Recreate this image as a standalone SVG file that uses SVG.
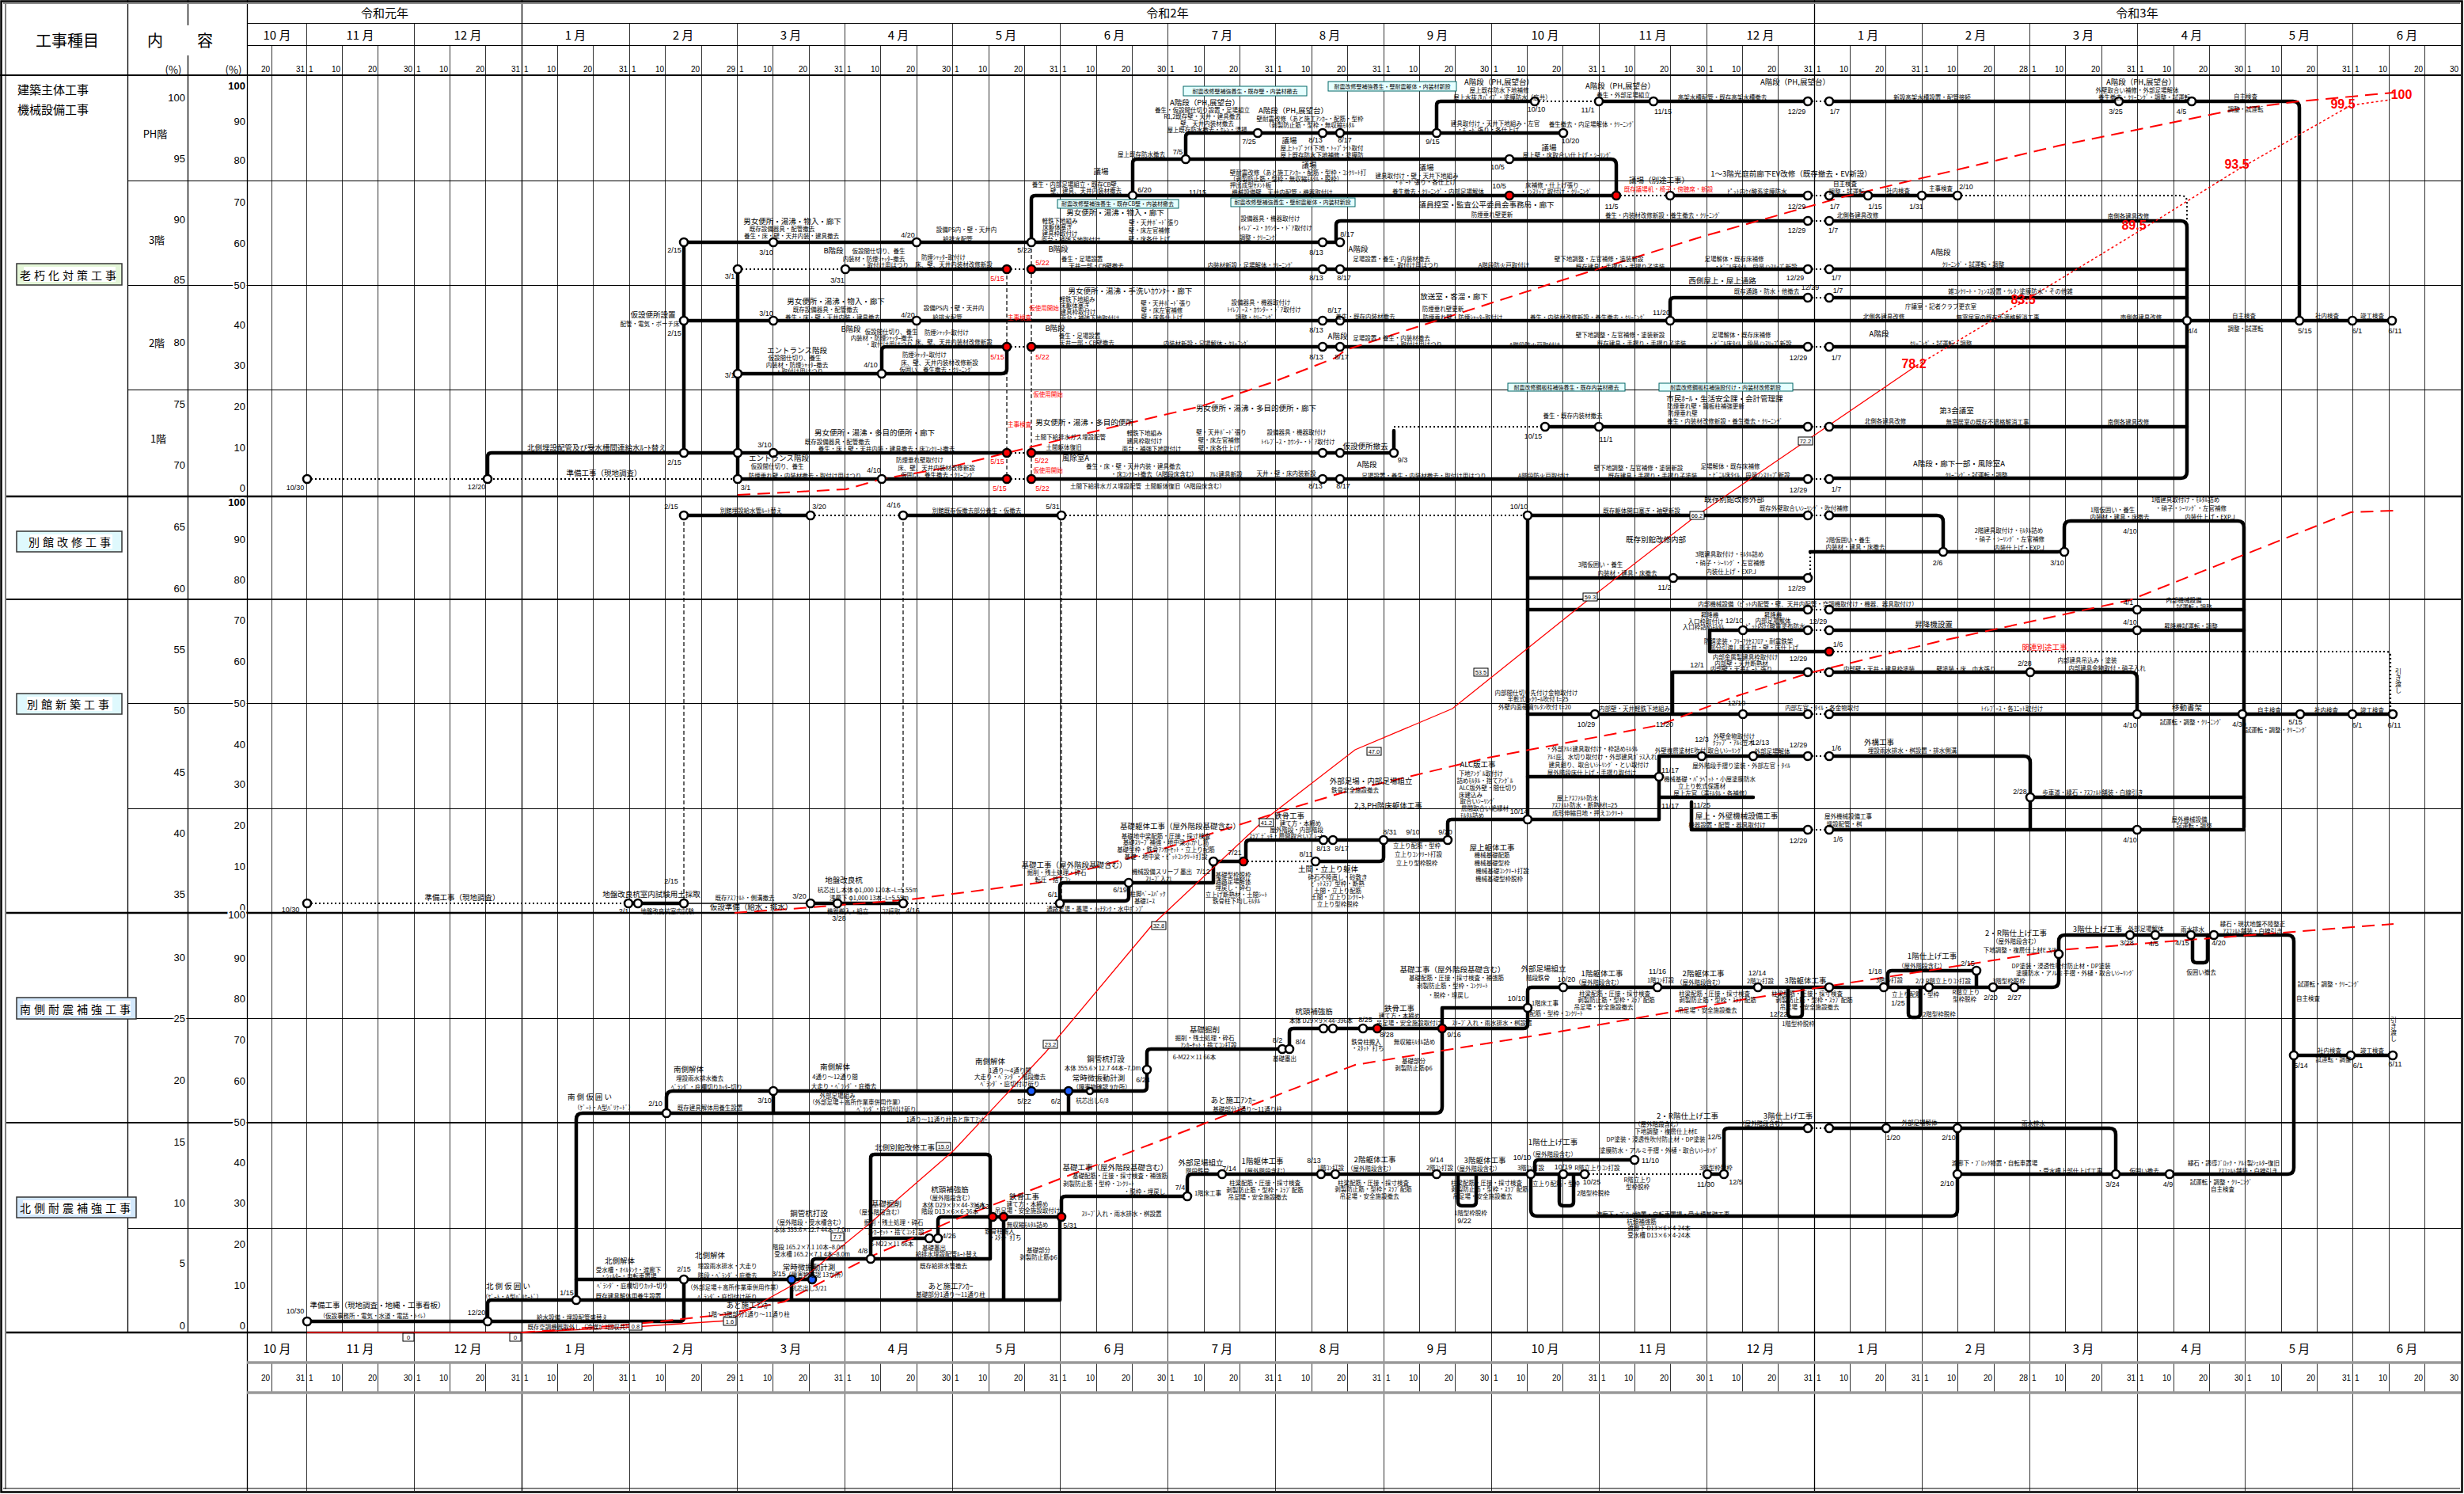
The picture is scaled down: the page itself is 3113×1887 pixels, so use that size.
<svg xmlns="http://www.w3.org/2000/svg" width="3113" height="1887" viewBox="0 0 3113 1887">
<style>
text{font-family:"Noto Sans CJK JP","Liberation Sans",sans-serif;dominant-baseline:central;fill:#000}
.h{font-size:20px;text-anchor:middle}
.yr{font-size:15px;text-anchor:middle}
.mo text{font-size:15px;text-anchor:middle}
.dy text{font-size:10px;font-family:"Liberation Sans",sans-serif}
.dy .e{text-anchor:end}
.ax{font-size:13px;text-anchor:end;font-family:"Liberation Sans",sans-serif;stroke:#fff;stroke-width:4px;paint-order:stroke}
.fl{font-size:13px;text-anchor:middle}
.m{font-size:9.5px;text-anchor:middle}
.s{font-size:7.5px;text-anchor:middle}
.d{font-size:9px;text-anchor:middle;font-family:"Liberation Sans",sans-serif}
.r{fill:#f00}
.p{font-size:16px;font-weight:bold;fill:#f00;text-anchor:middle;font-family:"Liberation Sans",sans-serif}
.vt{writing-mode:vertical-rl;font-size:8px;text-anchor:middle}
.g1{stroke:#333;stroke-width:1;fill:none}
.mn{fill:none;stroke:#000;stroke-width:4.5;stroke-linejoin:round;stroke-linecap:round}
.dt{fill:none;stroke:#000;stroke-width:2.2;stroke-dasharray:2 3}
.dv{fill:none;stroke:#000;stroke-width:1.2;stroke-dasharray:5 3}
.th{fill:none;stroke:#000;stroke-width:1.5}
.rc{fill:none;stroke:#f00;stroke-width:2;stroke-dasharray:16 9}
.ro{fill:none;stroke:#f00;stroke-width:1.3}
.rod{fill:none;stroke:#f00;stroke-width:1.5;stroke-dasharray:3 3}
.nd circle{fill:#fff;stroke:#000;stroke-width:2.6}
circle.r{fill:#f00}
circle.b{fill:#1a5cff}
.bx rect{fill:#e6ffff;stroke:#066;stroke-width:1}
.bx text{font-size:7px;text-anchor:middle}
.vb rect{fill:#fff;stroke:#000;stroke-width:1}
.vb text{font-size:7.5px;text-anchor:middle;font-family:"Liberation Sans",sans-serif}
.sec rect.o{stroke:#333;stroke-width:1.5}
.sec rect.i{fill:#fff}
.sec text{font-size:14px;text-anchor:middle;letter-spacing:4px}
</style>
<defs>
<g id="days" class="dy">
<text class="e" x="341">20</text><text class="e" x="385">31</text>
<text x="390">1</text><text class="e" x="430">10</text><text class="e" x="476">20</text><text class="e" x="521">30</text>
<text x="526">1</text><text class="e" x="566">10</text><text class="e" x="612">20</text><text class="e" x="657">31</text>
<text x="662">1</text><text class="e" x="702">10</text><text class="e" x="748">20</text><text class="e" x="793">31</text>
<text x="798">1</text><text class="e" x="839">10</text><text class="e" x="884">20</text><text class="e" x="929">29</text>
<text x="934">1</text><text class="e" x="975">10</text><text class="e" x="1020">20</text><text class="e" x="1065">31</text>
<text x="1070">1</text><text class="e" x="1111">10</text><text class="e" x="1156">20</text><text class="e" x="1201">30</text>
<text x="1206">1</text><text class="e" x="1247">10</text><text class="e" x="1292">20</text><text class="e" x="1337">31</text>
<text x="1342">1</text><text class="e" x="1383">10</text><text class="e" x="1428">20</text><text class="e" x="1473">30</text>
<text x="1478">1</text><text class="e" x="1519">10</text><text class="e" x="1564">20</text><text class="e" x="1609">31</text>
<text x="1614">1</text><text class="e" x="1655">10</text><text class="e" x="1700">20</text><text class="e" x="1745">31</text>
<text x="1751">1</text><text class="e" x="1791">10</text><text class="e" x="1836">20</text><text class="e" x="1881">30</text>
<text x="1887">1</text><text class="e" x="1927">10</text><text class="e" x="1972">20</text><text class="e" x="2018">31</text>
<text x="2023">1</text><text class="e" x="2063">10</text><text class="e" x="2108">20</text><text class="e" x="2154">30</text>
<text x="2159">1</text><text class="e" x="2199">10</text><text class="e" x="2244">20</text><text class="e" x="2290">31</text>
<text x="2295">1</text><text class="e" x="2335">10</text><text class="e" x="2380">20</text><text class="e" x="2426">31</text>
<text x="2431">1</text><text class="e" x="2471">10</text><text class="e" x="2517">20</text><text class="e" x="2562">28</text>
<text x="2567">1</text><text class="e" x="2607">10</text><text class="e" x="2653">20</text><text class="e" x="2698">31</text>
<text x="2703">1</text><text class="e" x="2743">10</text><text class="e" x="2789">20</text><text class="e" x="2834">30</text>
<text x="2839">1</text><text class="e" x="2880">10</text><text class="e" x="2925">20</text><text class="e" x="2970">31</text>
<text x="2975">1</text><text class="e" x="3016">10</text><text class="e" x="3061">20</text><text class="e" x="3106">30</text>
</g>
<g id="mons" class="mo">
<text x="350">10 月</text><text x="455">11 月</text><text x="591">12 月</text><text x="727">1 月</text><text x="863">2 月</text><text x="999">3 月</text><text x="1135">4 月</text><text x="1271">5 月</text><text x="1408">6 月</text><text x="1544">7 月</text><text x="1680">8 月</text><text x="1816">9 月</text><text x="1952">10 月</text><text x="2088">11 月</text><text x="2224">12 月</text><text x="2360">1 月</text><text x="2496">2 月</text><text x="2632">3 月</text><text x="2769">4 月</text><text x="2905">5 月</text><text x="3041">6 月</text>
</g>
</defs>
<rect width="3113" height="1887" fill="#fff"/>

<g id="grid">
<path class="g1" d="M343.5,57V1683M432.5,57V1683M477.5,57V1683M568.5,57V1683M613.5,57V1683M704.5,57V1683M749.5,57V1683M840.5,57V1683M886.5,57V1683M976.5,57V1683M1022.5,57V1683M1112.5,57V1683M1158.5,57V1683M1249.5,57V1683M1294.5,57V1683M1385.5,57V1683M1430.5,57V1683M1521.5,57V1683M1566.5,57V1683M1657.5,57V1683M1702.5,57V1683M1793.5,57V1683M1838.5,57V1683M1929.5,57V1683M1974.5,57V1683M2065.5,57V1683M2110.5,57V1683M2201.5,57V1683M2246.5,57V1683M2337.5,57V1683M2382.5,57V1683M2473.5,57V1683M2519.5,57V1683M2609.5,57V1683M2655.5,57V1683M2746.5,57V1683M2791.5,57V1683M2882.5,57V1683M2927.5,57V1683M3018.5,57V1683M3063.5,57V1683"/>
<path class="g1" d="M343.5,1721V1759M432.5,1721V1759M477.5,1721V1759M568.5,1721V1759M613.5,1721V1759M704.5,1721V1759M749.5,1721V1759M840.5,1721V1759M886.5,1721V1759M976.5,1721V1759M1022.5,1721V1759M1112.5,1721V1759M1158.5,1721V1759M1249.5,1721V1759M1294.5,1721V1759M1385.5,1721V1759M1430.5,1721V1759M1521.5,1721V1759M1566.5,1721V1759M1657.5,1721V1759M1702.5,1721V1759M1793.5,1721V1759M1838.5,1721V1759M1929.5,1721V1759M1974.5,1721V1759M2065.5,1721V1759M2110.5,1721V1759M2201.5,1721V1759M2246.5,1721V1759M2337.5,1721V1759M2382.5,1721V1759M2473.5,1721V1759M2519.5,1721V1759M2609.5,1721V1759M2655.5,1721V1759M2746.5,1721V1759M2791.5,1721V1759M2882.5,1721V1759M2927.5,1721V1759M3018.5,1721V1759M3063.5,1721V1759"/>
<path class="g1" d="M387.5,29V1883M523.5,29V1883M795.5,29V1883M931.5,29V1883M1067.5,29V1883M1203.5,29V1883M1339.5,29V1883M1475.5,29V1883M1611.5,29V1883M1748.5,29V1883M1884.5,29V1883M2020.5,29V1883M2156.5,29V1883M2428.5,29V1883M2564.5,29V1883M2700.5,29V1883M2836.5,29V1883M2972.5,29V1883"/>
<path stroke="#000" stroke-width="1.3" fill="none" d="M312.5,0V1883M659.5,0V1883M2292.5,0V1883M161.5,0V1683M237.5,0V32M237.5,70V1683"/>
<path stroke="#000" stroke-width="1" fill="none" d="M312,29.5H3109M312,57.5H3109M161,228.5H3109M161,360.5H3109M161,492.5H3109M161,888.5H3109M161,1021.5H3109M161,1286.5H3109M161,1551.5H3109"/>
<path stroke="#000" stroke-width="2" fill="none" d="M0,95H3109M8,757H3109M8,1418H3109"/>
<path stroke="#000" stroke-width="2.6" fill="none" d="M8,627H3109M8,1153H3109M8,1683H3109"/>
<path stroke="#999" stroke-width="3.5" fill="none" d="M312,1721H3109M312,1759H3109"/>
<rect x="1.5" y="1.5" width="3109" height="1883" fill="none" stroke="#000" stroke-width="2.5"/>
<path stroke="#000" stroke-width="1" fill="none" d="M7,4V1881M4,1880H3108"/>
<path stroke="#888" stroke-width="2" fill="none" d="M4,4H3108"/>
</g>

<g id="header">
<text class="h" x="85" y="50">工事種目</text>
<text class="h" x="196" y="50">内</text>
<text class="h" x="259" y="50">容</text>
<text class="fl" x="219" y="87">(%)</text>
<text class="fl" x="295" y="87">(%)</text>
<text class="yr" x="486" y="15">令和元年</text>
<text class="yr" x="1475" y="15">令和2年</text>
<text class="yr" x="2700" y="15">令和3年</text>
<use href="#mons" y="43"/>
<use href="#days" y="87"/>
<use href="#mons" y="1702"/>
<use href="#days" y="1740"/>
</g>

<g id="left-column">
<text x="22" y="112" style="font-size:15px">建築主体工事</text>
<text x="22" y="137" style="font-size:15px">機械設備工事</text>
<g class="sec" id="sec-rokyu"><rect class="o" x="21" y="333" width="133" height="27" fill="#e4f6d8"/><rect class="i" x="30" y="337" width="116" height="19"/><text x="88" y="347">老朽化対策工事</text></g>
<g class="sec" id="sec-bekkan-kaishu"><rect class="o" x="21" y="671" width="133" height="26" fill="#dff9fd"/><rect class="i" x="38" y="675" width="104" height="18"/><text x="90" y="684">別館改修工事</text></g>
<g class="sec" id="sec-bekkan-shinchiku"><rect class="o" x="21" y="876" width="133" height="26" fill="#dff9fd"/><rect class="i" x="34" y="880" width="108" height="18"/><text x="88" y="889">別館新築工事</text></g>
<g class="sec" id="sec-minami"><rect class="o" x="21" y="1260" width="151" height="27" fill="#d3e8fc"/><rect class="i" x="29" y="1264" width="136" height="19"/><text x="97" y="1274">南側耐震補強工事</text></g>
<g class="sec" id="sec-kita"><rect class="o" x="21" y="1512" width="151" height="26" fill="#d3e8fc"/><rect class="i" x="29" y="1516" width="136" height="18"/><text x="97" y="1525">北側耐震補強工事</text></g>
<text class="fl" x="196" y="168">PH階</text>
<text class="fl" x="198" y="302">3階</text>
<text class="fl" x="198" y="432">2階</text>
<text class="fl" x="200" y="553">1階</text>
<text class="ax" x="234" y="123">100</text><text class="ax" x="234" y="200">95</text><text class="ax" x="234" y="277">90</text><text class="ax" x="234" y="353">85</text><text class="ax" x="234" y="432">80</text><text class="ax" x="234" y="510">75</text><text class="ax" x="234" y="587">70</text><text class="ax" x="234" y="665">65</text><text class="ax" x="234" y="743">60</text><text class="ax" x="234" y="820">55</text><text class="ax" x="234" y="897">50</text><text class="ax" x="234" y="975">45</text><text class="ax" x="234" y="1052">40</text><text class="ax" x="234" y="1129">35</text><text class="ax" x="234" y="1209">30</text><text class="ax" x="234" y="1286">25</text><text class="ax" x="234" y="1364">20</text><text class="ax" x="234" y="1442">15</text><text class="ax" x="234" y="1519">10</text><text class="ax" x="234" y="1595">5</text><text class="ax" x="234" y="1674">0</text>
<text class="ax" x="310" y="108" font-weight="bold">100</text><text class="ax" x="310" y="153">90</text><text class="ax" x="310" y="202">80</text><text class="ax" x="310" y="255">70</text><text class="ax" x="310" y="307">60</text><text class="ax" x="310" y="360">50</text><text class="ax" x="310" y="410">40</text><text class="ax" x="310" y="461">30</text><text class="ax" x="310" y="513">20</text><text class="ax" x="310" y="565">10</text><text class="ax" x="310" y="616">0</text>
<text class="ax" x="310" y="634" font-weight="bold">100</text><text class="ax" x="310" y="681">90</text><text class="ax" x="310" y="732">80</text><text class="ax" x="310" y="783">70</text><text class="ax" x="310" y="835">60</text><text class="ax" x="310" y="888">50</text><text class="ax" x="310" y="940">40</text><text class="ax" x="310" y="990">30</text><text class="ax" x="310" y="1042">20</text><text class="ax" x="310" y="1094">10</text><text class="ax" x="310" y="1146">0</text>
<text class="ax" x="310" y="1155">100</text><text class="ax" x="310" y="1210">90</text><text class="ax" x="310" y="1261">80</text><text class="ax" x="310" y="1313">70</text><text class="ax" x="310" y="1365">60</text><text class="ax" x="310" y="1417">50</text><text class="ax" x="310" y="1468">40</text><text class="ax" x="310" y="1519">30</text><text class="ax" x="310" y="1571">20</text><text class="ax" x="310" y="1623">10</text><text class="ax" x="310" y="1674">0</text>
</g>

<g id="connectors">
<path class="mn" d="M864,405H3022M864,306V572M932,340V605M864,306H1693M1688,306V284Q1688,279 1694,279H2284M2311,279H2755Q2763,279 2763,287V596Q2763,604 2755,604H2311"/>
<path class="mn" d="M1068,340H1272M1303,340H2284M2311,340H2763M2110,405V381Q2110,376 2115,376H2284M2311,376H2763M1303,438H2284M2311,438H2763M932,472H1265Q1272,472 1272,466V438M1114,472V443Q1114,438 1119,438H1272"/>
<path class="mn" d="M616,605V577Q616,572 621,572H1272M1303,572H1761V544M1952,539H2284M2311,539H2763M932,605H1272M1303,605H2284"/>
<path class="mn" d="M1303,306V252Q1303,247 1308,247H2042M2110,247H2284M2311,247H2473M1431,247V206Q1431,201 1436,201H2035Q2042,201 2042,208V247M1498,201V173Q1498,168 1503,168H1975M1815,168V133Q1815,128 1820,128H1939M2020,128H2284M2311,128H2897Q2905,128 2905,136V405"/>
<path class="dt" d="M932,340H1068M1272,340H1303M2284,340H2311M2284,279H2311M2284,376H2311M1272,438H1303M2284,438H2311M1272,572H1303M1761,539H1952M2284,539H2311M388,605H932M1272,605H1303M2284,605H2311M2042,247H2110M2284,247H2311M2473,247H2755Q2763,247 2763,255V279M1939,128H2020M2284,128H2311"/>
<path class="dv" d="M1272,340V605M1303,306V605"/>
<path class="mn" d="M864,651H1024M1141,651H1341M1930,651H2284M2311,651H2447Q2455,651 2455,659V697M1930,651V1035M1930,730H2284M2287,697H2600Q2608,697 2608,689V666Q2608,658 2616,658H2827Q2835,658 2835,666V1045"/>
<path class="dt" d="M1024,651H1141M1341,651H1930M2284,651H2311M2287,730V697"/>
<path class="dv" d="M864,651V1141M1141,651V1141M1341,651V1141"/>
<path class="mn" d="M1930,770H2284M2311,770H2835M2160,796H2284M2311,796H2835M2160,796V823H2311M2113,849H2284M2311,849H2692Q2700,849 2700,857V902M2113,849V902M1930,902H2284M2311,902H3023M2096,955H2284M2311,955H2557Q2565,955 2565,963V1048M2096,955V1035M1930,981H2096M2565,1007H2835M1829,1061V1040Q1829,1035 1834,1035H2096M2137,1013V1048H2284M2311,1048H2835M2096,1007H2215"/>
<path class="dt" d="M2284,770H2311M2284,796H2311M2311,823H3015Q3020,823 3020,828V902M2284,849H2311M2284,902H2311M2284,955H2311M2284,1048H2311"/>
<path class="mn" d="M794,1141H864M1024,1141H1141M1339,1141V1120Q1339,1115 1344,1115H1533V1088H1571M1339,1138H1421Q1426,1138 1426,1133V1115M1662,1088H1743Q1748,1088 1748,1083V1061M1574,1088V1066Q1574,1061 1579,1061H1829"/>
<path class="th" d="M864,1141H1024"/>
<path class="dt" d="M388,1141H794M1141,1141H1339M1571,1088H1662"/>
<path class="mn" d="M728,1642V1414Q728,1406 736,1406H1814Q1822,1406 1822,1398V1273H1930M842,1406V1386Q842,1378 850,1378H1377M977,1378V1406M1350,1378V1406M1377,1378H1444Q1449,1378 1449,1373V1330Q1449,1325 1454,1325H1629V1304Q1629,1299 1634,1299H1925Q1930,1299 1930,1294V1252Q1930,1247 1935,1247H2593Q2601,1247 2601,1239V1189Q2601,1181 2609,1181H2890Q2898,1181 2898,1189V1475Q2898,1483 2890,1483H2473M2898,1333H3023"/>
<path class="mn" d="M2259,1247V1280Q2259,1285 2264,1285H2272Q2277,1285 2277,1280V1247M2411,1247V1280Q2411,1285 2416,1285H2421Q2426,1285 2426,1280V1247M2770,1181V1211Q2770,1216 2775,1216H2784Q2789,1216 2789,1211V1181M2385,1247V1231Q2385,1226 2390,1226H2492Q2497,1226 2497,1231V1247"/>
<path class="mn" d="M388,1669H859Q864,1669 864,1664V1616M616,1669V1647Q616,1642 621,1642H1339V1537M1268,1537V1642M1000,1616V1642M728,1616H1026V1595Q1026,1590 1031,1590H1251M1100,1590V1463Q1100,1458 1105,1458H1246Q1251,1458 1251,1463V1590M1100,1590V1569Q1100,1564 1105,1564H1185V1542Q1185,1537 1190,1537H1341V1516Q1341,1511 1346,1511H1500V1489Q1500,1483 1506,1483H2002M2157,1483H2178V1430Q2178,1425 2184,1425H2284M2311,1425H2665Q2673,1425 2673,1433V1483M2473,1425V1528Q2473,1536 2465,1536H1942Q1934,1536 1934,1528V1483M1939,1483V1470Q1939,1465 1944,1465H2065M1842,1483V1518Q1842,1523 1847,1523H1860Q1865,1523 1865,1518V1483M1970,1483V1518Q1970,1523 1975,1523H1983Q1988,1523 1988,1518V1483"/>
<path class="dt" d="M2002,1483H2157M2284,1425H2311"/>
<polyline class="rc" points="932,625 1069,618 1114,605 1200,590 1272,572 1428,534 1518,513 1607,483 1687,452 1700,442 1970,355 2150,299 2331,248 2601,184 2826,138 2905,128 3024,117"/>
<polyline class="rc" points="928,1153 1026,1146 1151,1136 1312,1115 1473,1071 1634,1020 1700,1000 1880,957 2096,916 2191,880 2286,850 2450,810 2691,758 2970,647 3024,645"/>
<polyline class="rc" points="660,1683 796,1673 918,1660 991,1644 1098,1588 1205,1541 1339,1489 1473,1438 1712,1345 1970,1303 2205,1262 2601,1200 3024,1167"/>
<polyline class="ro" points="388,1683 660,1683 800,1676 920,1668 1009,1619 1098,1546 1205,1453 1321,1329 1455,1169 1598,1035 1712,947 1835,895 2006,758 2141,653 2286,554 2421,462"/>
<polyline class="rod" points="2421,462 2556,381 2696,296 2826,215 2970,133 3020,126"/>
</g>

<g id="nodes" class="nd">
<circle cx="864" cy="405" r="5"/><circle cx="977" cy="405" r="5"/><circle cx="1158" cy="405" r="5"/><circle cx="1671" cy="405" r="5"/><circle cx="1693" cy="405" r="5"/><circle cx="2110" cy="405" r="5"/><circle cx="2763" cy="405" r="5"/><circle cx="2905" cy="405" r="5"/><circle cx="2972" cy="405" r="5"/><circle cx="3022" cy="405" r="5"/>
<circle cx="864" cy="306" r="5"/><circle cx="977" cy="306" r="5"/><circle cx="1158" cy="306" r="5"/><circle cx="1303" cy="306" r="5"/><circle cx="1671" cy="306" r="5"/><circle cx="1693" cy="306" r="5"/><circle cx="2284" cy="279" r="5"/><circle cx="2311" cy="279" r="5"/>
<circle cx="932" cy="340" r="5"/><circle cx="1068" cy="340" r="5"/><circle class="r" cx="1272" cy="340" r="5"/><circle class="r" cx="1303" cy="340" r="5"/><circle cx="1671" cy="340" r="5"/><circle cx="1693" cy="340" r="5"/><circle cx="2284" cy="340" r="5"/><circle cx="2311" cy="340" r="5"/>
<circle cx="2284" cy="376" r="5"/><circle cx="2311" cy="376" r="5"/>
<circle class="r" cx="1272" cy="438" r="5"/><circle class="r" cx="1303" cy="438" r="5"/><circle cx="1671" cy="438" r="5"/><circle cx="1693" cy="438" r="5"/><circle cx="2284" cy="438" r="5"/><circle cx="2311" cy="438" r="5"/><circle cx="932" cy="472" r="5"/><circle cx="1114" cy="472" r="5"/>
<circle cx="864" cy="572" r="5"/><circle cx="932" cy="572" r="5"/><circle cx="977" cy="572" r="5"/><circle class="r" cx="1272" cy="572" r="5"/><circle class="r" cx="1303" cy="572" r="5"/><circle cx="1671" cy="572" r="5"/><circle cx="1693" cy="572" r="5"/><circle cx="1761" cy="572" r="5"/><circle cx="1952" cy="539" r="5"/><circle cx="2020" cy="539" r="5"/><circle cx="2284" cy="539" r="5"/><circle cx="2311" cy="539" r="5"/>
<circle cx="388" cy="605" r="5"/><circle cx="616" cy="605" r="5"/><circle cx="932" cy="605" r="5"/><circle cx="1114" cy="605" r="5"/><circle class="r" cx="1272" cy="605" r="5"/><circle class="r" cx="1303" cy="605" r="5"/><circle cx="1671" cy="605" r="5"/><circle cx="1693" cy="605" r="5"/><circle cx="2284" cy="605" r="5"/><circle cx="2311" cy="605" r="5"/>
<circle cx="1431" cy="247" r="5"/><circle class="r" cx="1907" cy="247" r="5"/><circle class="r" cx="2042" cy="247" r="5"/><circle cx="2110" cy="247" r="5"/><circle cx="2284" cy="247" r="5"/><circle cx="2311" cy="247" r="5"/><circle cx="2360" cy="247" r="5"/><circle cx="2428" cy="247" r="5"/><circle cx="2473" cy="247" r="5"/>
<circle cx="1498" cy="201" r="5"/><circle cx="1907" cy="201" r="5"/><circle cx="1589" cy="168" r="5"/><circle cx="1671" cy="168" r="5"/><circle cx="1693" cy="168" r="5"/><circle cx="1815" cy="168" r="5"/><circle cx="1975" cy="168" r="5"/>
<circle cx="1939" cy="128" r="5"/><circle cx="2020" cy="128" r="5"/><circle cx="2089" cy="128" r="5"/><circle cx="2284" cy="128" r="5"/><circle cx="2311" cy="128" r="5"/><circle cx="2677" cy="128" r="5"/><circle cx="2769" cy="128" r="5"/>
<circle cx="864" cy="651" r="5"/><circle cx="1024" cy="651" r="5"/><circle cx="1141" cy="651" r="5"/><circle cx="1341" cy="651" r="5"/><circle cx="1930" cy="651" r="5"/><circle cx="2284" cy="651" r="5"/><circle cx="2311" cy="651" r="5"/><circle cx="2114" cy="730" r="5"/><circle cx="2284" cy="730" r="5"/><circle cx="2455" cy="697" r="5"/><circle cx="2608" cy="697" r="5"/>
<circle cx="2284" cy="770" r="5"/><circle cx="2311" cy="770" r="5"/><circle cx="2700" cy="770" r="5"/><circle cx="2202" cy="796" r="5"/><circle cx="2284" cy="796" r="5"/><circle cx="2311" cy="796" r="5"/><circle cx="2700" cy="796" r="5"/><circle class="r" cx="2311" cy="823" r="5"/>
<circle cx="2284" cy="849" r="5"/><circle cx="2311" cy="849" r="5"/><circle cx="2565" cy="849" r="5"/><circle cx="2015" cy="902" r="5"/><circle cx="2202" cy="902" r="5"/><circle cx="2284" cy="902" r="5"/><circle cx="2311" cy="902" r="5"/><circle cx="2700" cy="902" r="5"/><circle cx="2833" cy="902" r="5"/><circle cx="2906" cy="902" r="5"/><circle cx="2972" cy="902" r="5"/><circle cx="3023" cy="902" r="5"/>
<circle cx="2150" cy="955" r="5"/><circle cx="2215" cy="955" r="5"/><circle cx="2284" cy="955" r="5"/><circle cx="2311" cy="955" r="5"/><circle cx="2096" cy="981" r="5"/><circle cx="2565" cy="1007" r="5"/><circle cx="1930" cy="1035" r="5"/><circle cx="2284" cy="1048" r="5"/><circle cx="2311" cy="1048" r="5"/><circle cx="2700" cy="1048" r="5"/>
<circle cx="388" cy="1141" r="5"/><circle cx="794" cy="1141" r="5"/><circle cx="806" cy="1141" r="5"/><circle cx="864" cy="1141" r="5"/><circle cx="1024" cy="1141" r="5"/><circle cx="1058" cy="1141" r="5"/><circle cx="1141" cy="1141" r="5"/><circle cx="1339" cy="1141" r="5"/><circle cx="1426" cy="1115" r="5"/><circle cx="1533" cy="1088" r="5"/><circle class="r" cx="1571" cy="1088" r="5"/><circle cx="1662" cy="1088" r="5"/><circle cx="1672" cy="1061" r="5"/><circle cx="1684" cy="1061" r="5"/><circle cx="1748" cy="1061" r="5"/><circle cx="1829" cy="1061" r="5"/>
<circle cx="842" cy="1406" r="5"/><circle cx="977" cy="1378" r="5"/><circle class="b" cx="1303" cy="1378" r="5"/><circle class="b" cx="1350" cy="1378" r="5"/><circle cx="1377" cy="1378" r="4"/><circle cx="1449" cy="1351" r="5"/><circle cx="1620" cy="1325" r="5"/><circle cx="1629" cy="1325" r="5"/><circle cx="1672" cy="1299" r="5"/><circle cx="1684" cy="1299" r="5"/><circle cx="1722" cy="1299" r="5"/><circle class="r" cx="1740" cy="1299" r="5"/><circle class="r" cx="1822" cy="1299" r="5"/><circle cx="1930" cy="1273" r="5"/>
<circle cx="1975" cy="1247" r="5"/><circle cx="2094" cy="1247" r="5"/><circle cx="2221" cy="1247" r="5"/><circle cx="2311" cy="1247" r="5"/><circle cx="2380" cy="1247" r="5"/><circle cx="2437" cy="1247" r="5"/><circle cx="2518" cy="1247" r="5"/><circle cx="2545" cy="1247" r="5"/><circle cx="2497" cy="1226" r="5"/><circle cx="2601" cy="1205" r="5"/><circle cx="2691" cy="1181" r="5"/><circle cx="2723" cy="1181" r="5"/><circle cx="2768" cy="1181" r="5"/><circle cx="2797" cy="1181" r="5"/><circle cx="2898" cy="1333" r="5"/><circle cx="2970" cy="1333" r="5"/><circle cx="3023" cy="1333" r="5"/>
<circle cx="388" cy="1669" r="5"/><circle cx="616" cy="1669" r="5"/><circle cx="728" cy="1642" r="5"/><circle cx="864" cy="1616" r="5"/><circle class="b" cx="1000" cy="1616" r="5"/><circle class="b" cx="1026" cy="1616" r="5"/><circle cx="1100" cy="1590" r="5"/><circle cx="1174" cy="1564" r="5"/><circle cx="1185" cy="1564" r="5"/><circle class="r" cx="1254" cy="1537" r="5"/><circle class="r" cx="1268" cy="1537" r="5"/><circle class="r" cx="1341" cy="1537" r="5"/><circle cx="1500" cy="1511" r="5"/>
<circle cx="1544" cy="1483" r="5"/><circle cx="1669" cy="1483" r="5"/><circle cx="1687" cy="1483" r="5"/><circle cx="1815" cy="1483" r="5"/><circle cx="1934" cy="1483" r="5"/><circle cx="1975" cy="1483" r="5"/><circle cx="2002" cy="1483" r="5"/><circle cx="2157" cy="1483" r="5"/><circle cx="2178" cy="1483" r="5"/><circle cx="2065" cy="1465" r="5"/><circle cx="2284" cy="1425" r="5"/><circle cx="2311" cy="1425" r="5"/><circle cx="2383" cy="1425" r="5"/><circle cx="2473" cy="1425" r="5"/><circle cx="2473" cy="1483" r="5"/><circle cx="2673" cy="1483" r="5"/><circle cx="2741" cy="1483" r="5"/>
</g>

<g id="boxes">
<g class="bx"><rect x="1495" y="109" width="156" height="12"/><text x="1573" y="115">耐震改修壁補強養生・既存壁・内装材撤去</text></g>
<g class="bx"><rect x="1678" y="103" width="162" height="12"/><text x="1759" y="109">耐震改修壁補強養生・壁耐震躯体・内装材新設</text></g>
<g class="bx"><rect x="1336" y="252" width="153" height="11"/><text x="1412" y="257">耐震改修壁補強養生・既存CB壁・内装材撤去</text></g>
<g class="bx"><rect x="1555" y="250" width="157" height="11"/><text x="1633" y="255">耐震改修壁補強養生・壁耐震躯体・内装材新設</text></g>
<g class="bx"><rect x="1905" y="484" width="148" height="10"/><text x="1979" y="489">耐震改修鋼板柱補強養生・既存内装材撤去</text></g>
<g class="bx"><rect x="2096" y="484" width="169" height="10"/><text x="2180" y="489">耐震改修鋼板柱補強設付け・内装材改修新設</text></g>
<g class="vb"><rect x="2272" y="552" width="18" height="10"/><text x="2281" y="557">72.2</text></g>
<g class="vb"><rect x="2135" y="646" width="18" height="10"/><text x="2144" y="651">66.2</text></g>
<g class="vb"><rect x="2000" y="749" width="18" height="10"/><text x="2009" y="754">59.3</text></g>
<g class="vb"><rect x="1862" y="844" width="18" height="10"/><text x="1871" y="849">53.5</text></g>
<g class="vb"><rect x="1727" y="944" width="18" height="10"/><text x="1736" y="949">47.0</text></g>
<g class="vb"><rect x="1591" y="1034" width="18" height="10"/><text x="1600" y="1039">41.2</text></g>
<g class="vb"><rect x="1455" y="1164" width="18" height="10"/><text x="1464" y="1169">32.8</text></g>
<g class="vb"><rect x="1318" y="1314" width="18" height="10"/><text x="1327" y="1319">23.2</text></g>
<g class="vb"><rect x="1183" y="1443" width="18" height="10"/><text x="1192" y="1448">15.0</text></g>
<g class="vb"><rect x="1050" y="1557" width="16" height="10"/><text x="1058" y="1562">7.7</text></g>
<g class="vb"><rect x="914" y="1664" width="16" height="10"/><text x="922" y="1669">1.6</text></g>
<g class="vb"><rect x="795" y="1670" width="16" height="10"/><text x="803" y="1675">0.8</text></g>
<g class="vb"><rect x="509" y="1684" width="14" height="10"/><text x="516" y="1689">0</text></g>
<g class="vb"><rect x="644" y="1684" width="14" height="10"/><text x="651" y="1689">0</text></g>
</g>

<g id="labels-rokyu">
<text class="m" x="1522" y="129">A階段（PH,展望台）</text>
<text class="s" x="1519" y="138">養生・仮設間仕切り設置・足場組立</text>
<text class="s" x="1519" y="146">R1,2既存壁・天井・建具撤去</text>
<text class="s" x="1525" y="155">壁、天井内装材撤去</text>
<text class="s" x="1525" y="163">屋上既存防水撤去・ｹﾚﾝ・清掃</text>
<text class="d" x="1578" y="179">7/25</text>
<text class="m" x="1634" y="139">A階段（PH,展望台）</text>
<text class="s" x="1655" y="149">壁耐震改修（あと施工ｱﾝｶｰ・配筋・型枠</text>
<text class="s" x="1655" y="157">（剥製防止筋・型枠・無収縮ﾓﾙﾀﾙ</text>
<text class="m" x="1629" y="177">議場</text><text class="d" x="1662" y="177">8/13</text><text class="d" x="1699" y="177">8/17</text>
<text class="s" x="1670" y="186">屋上ﾄｯﾌﾟﾗｲﾄ下地・ﾄｯﾌﾟﾗｲﾄ取付</text>
<text class="s" x="1670" y="195">屋上既存防水下地補修・塗膜防</text>
<text class="s" x="1442" y="194">屋上既存防水撤去</text><text class="d" x="1488" y="192">7/5</text>
<text class="m" x="1391" y="216">議場</text>
<text class="s" x="1361" y="232">養生・内部足場組立・既存CB壁、</text>
<text class="s" x="1372" y="240">壁、建具、天井内装材撤去</text>
<text class="d" x="1446" y="240">6/20</text><text class="d" x="1513" y="243">11/15</text>
<text class="m" x="1654" y="208">議場</text>
<text class="s" x="1640" y="217">壁耐震改修（あと施工ｱﾝｶｰ・配筋・型枠・ｺﾝｸﾘｰﾄ打</text>
<text class="s" x="1625" y="225">（剥製防止筋・型枠・無収縮ﾓﾙﾀﾙ・脱枠）</text>
<text class="s" x="1580" y="233">押出成型ｾﾒﾝﾄ板</text>
<text class="s" x="1620" y="242">機械設備壁、天井内配管・機器取付け</text>
<text class="m" x="1894" y="103">A階段（PH,展望台）</text>
<text class="s" x="1894" y="113">屋上既存防水下地補修</text>
<text class="s" x="1898" y="122">屋上水抜きﾊﾟｲﾌﾟ・塗膜防水（庇共）</text>
<text class="m" x="2047" y="108">A階段（PH,展望台）</text>
<text class="s" x="2051" y="119">養生・外部足場組立</text>
<text class="s" x="2176" y="122">高架水槽配管・既存高架水槽撤去</text>
<text class="m" x="2268" y="103">A階段（PH,展望台）</text>
<text class="s" x="2441" y="122">新設高架水槽設置・配管接続</text>
<text class="m" x="2705" y="103">A階段（PH,展望台）</text>
<text class="s" x="2700" y="113">外壁取合い補修・外部足場解体</text>
<text class="s" x="2709" y="122">養生撤去・ｸﾘｰﾆﾝｸﾞ・調整・試運転</text>
<text class="s" x="2837" y="121">自主検査</text><text class="s" x="2837" y="137">調整・試運転</text>
<text class="d" x="1941" y="138">10/10</text><text class="d" x="2006" y="139">11/1</text><text class="d" x="2101" y="141">11/15</text><text class="d" x="2270" y="141">12/29</text><text class="d" x="2318" y="141">1/7</text><text class="d" x="2673" y="141">3/25</text><text class="d" x="2756" y="141">4/5</text>
<text class="s" x="1889" y="155">建具取付け・天井下地組み・左官</text>
<text class="s" x="1880" y="163">・ﾎﾞｰﾄﾞ張り・各仕上げ</text>
<text class="s" x="2011" y="156">養生撤去・内足場解体・ｸﾘｰﾆﾝｸﾞ</text>
<text class="d" x="1810" y="179">9/15</text><text class="d" x="1984" y="178">10/20</text>
<text class="m" x="1957" y="186">議場</text>
<text class="s" x="1980" y="195">屋上壁・床取合い仕上げ・ｼｰﾘﾝｸﾞ</text>
<text class="d" x="1892" y="211">10/5</text>
<text class="m" x="1802" y="211">議場</text>
<text class="s" x="1790" y="221">建具取付け・壁・天井下地組み</text>
<text class="s" x="1800" y="229">・ﾎﾞｰﾄﾞ張り・各仕上げ</text>
<text class="s" x="1817" y="241">養生撤去・ｸﾘｰﾆﾝｸﾞ・内部足場解体</text>
<text class="d" x="1894" y="235">10/5</text>
<text class="s" x="1961" y="233">床補修・仕上げ張り</text>
<text class="s" x="1966" y="241">・ﾉﾝｽﾘｯﾌﾟ取付け・ｸﾘｰﾆﾝｸﾞ</text>
<text class="m" x="2096" y="227">議場（別途工事）</text>
<text class="s r" x="2108" y="238">既存議場机・椅子・傍聴席・新設</text>
<text class="m" x="2263" y="219">1〜3階光庭前廊下EV改修（既存撤去・EV新設）</text>
<text class="s" x="2220" y="241">ﾋﾟｯﾄ内ｹｲ酸系塗膜防水</text>
<text class="s" x="2331" y="231">自主検査</text><text class="s" x="2333" y="241">調整・試運転</text><text class="s" x="2398" y="240">社内検査</text><text class="s" x="2452" y="237">主事検査</text><text class="d" x="2484" y="236">2/10</text>
<text class="d" x="2036" y="261">11/5</text><text class="d" x="2270" y="261">12/29</text><text class="d" x="2318" y="261">1/7</text><text class="d" x="2369" y="261">1/15</text><text class="d" x="2421" y="261">1/31</text>
<text class="m" x="1878" y="258">議員控室・監査公平委員会事務局・廊下</text>
<text class="s" x="1885" y="270">防煙垂れ壁更新</text>
<text class="s" x="2101" y="271">養生・内装材改修新設・養生撤去・ｸﾘｰﾆﾝｸﾞ</text>
<text class="s" x="2347" y="271">北側各建具改修</text><text class="s" x="2689" y="272">南側各建具改修</text>
<text class="d" x="2270" y="291">12/29</text><text class="d" x="2316" y="291">1/7</text>
<text class="m" x="1001" y="279">男女便所・湯沸・物入・廊下</text>
<text class="s" x="988" y="288">既存設備器具・配管撤去</text>
<text class="s" x="1000" y="297">養生・床・壁・天井内装・建具撤去</text>
<text class="d" x="852" y="316">2/15</text><text class="d" x="968" y="319">3/10</text>
<text class="s" x="1221" y="289">設備PS内・壁・天井内</text><text class="s" x="1210" y="301">給排水配管</text><text class="d" x="1147" y="297">4/20</text>
<text class="m" x="1409" y="268">男女便所・湯沸・物入・廊下</text>
<text class="s" x="1339" y="278">軽鉄下地組み</text><text class="s" x="1336" y="286">床躯体塞ぎ</text><text class="s" x="1339" y="294">建具枠取付け</text><text class="s" x="1353" y="302">面台・補強下地取付け</text>
<text class="s" x="1458" y="280">壁・天井ﾎﾞｰﾄﾞ張り</text><text class="s" x="1452" y="290">壁・床左官補修</text><text class="s" x="1452" y="301">壁・床各仕上げ</text>
<text class="s" x="1605" y="275">設備器具・機器取付け</text><text class="s" x="1611" y="287">ﾄｲﾚﾌﾞｰｽ・ｶｳﾝﾀｰ・ﾄﾞｱ取付け</text><text class="s" x="1590" y="299">調整・ｸﾘｰﾆﾝｸﾞ</text>
<text class="d" x="1294" y="316">5/22</text><text class="d" x="1663" y="319">8/13</text><text class="d" x="1702" y="296">8/17</text>
<text class="m" x="1053" y="316">B階段</text>
<text class="s" x="1110" y="316">仮設間仕切り、養生</text><text class="s" x="1104" y="326">内装材・防煙ｼｬｯﾀｰ撤去</text><text class="s" x="1118" y="334">・取付け用はつり</text>
<text class="s" x="1192" y="324">防煙ｼｬｯﾀｰ取付け</text><text class="s" x="1205" y="333">床、壁、天井内装材改修新設</text>
<text class="d" x="922" y="349">3/1</text><text class="d" x="1058" y="354">3/31</text><text class="d r" x="1260" y="352">5/15</text><text class="d r" x="1317" y="332">5/22</text>
<text class="m" x="1337" y="314">B階段</text><text class="s" x="1367" y="326">養生・足場設置</text><text class="s" x="1385" y="335">天井一部・CB壁撤去</text>
<text class="s" x="1580" y="334">内装材新設・足場解体・ｸﾘｰﾆﾝｸﾞ</text>
<text class="d" x="1663" y="351">8/13</text><text class="d" x="1698" y="351">8/17</text>
<text class="m" x="1716" y="314">A階段</text>
<text class="s" x="1758" y="326">足場設置・養生・内装材撤去</text><text class="s" x="1788" y="334">・取付け用はつり</text>
<text class="s" x="1900" y="334">A階段防火戸取付け</text>
<text class="s" x="2020" y="326">壁下地調整・左官補修・塗装新設</text><text class="s" x="2047" y="336">既存建具・手摺り・手摺り子塗装</text>
<text class="s" x="2191" y="326">足場解体・既存床補修</text><text class="s" x="2218" y="336">・ﾋﾞﾆﾙ床ﾀｲﾙ、段鼻ﾉﾝｽﾘｯﾌﾟ新設</text>
<text class="m" x="2452" y="318">A階段</text><text class="s" x="2493" y="333">ｸﾘｰﾆﾝｸﾞ・試運転・調整</text>
<text class="d" x="2268" y="351">12/29</text><text class="d" x="2320" y="351">1/7</text>
<text class="m" x="2176" y="354">西側屋上・屋上通路</text>
<text class="s" x="2232" y="367">既存通路・防水・他撤去</text><text class="d" x="2287" y="363">12/29</text><text class="d" x="2322" y="367">1/7</text>
<text class="s" x="2540" y="367">雑ｺﾝｸﾘｰﾄ・ﾌｪﾝｽ設置・ｳﾚﾀﾝ塗膜防水・その他雑</text>
<text class="m" x="1837" y="374">放送室・客溜・廊下</text>
<text class="s" x="1823" y="389">防煙垂れ壁更新</text><text class="s" x="1848" y="400">防煙垂れ壁・防煙ｼｬｯﾀｰ取付け</text>
<text class="s" x="2006" y="400">養生・内装材改修新設・養生撤去・ｸﾘｰﾆﾝｸﾞ</text>
<text class="d" x="2099" y="395">11/20</text>
<text class="s" x="2452" y="386">庁議室・記者クラブ更衣室</text>
<text class="s" x="2380" y="399">北側各建具改修</text><text class="s" x="2524" y="400">無窓居室の既存不適格解消工事</text><text class="s" x="2705" y="400">南側各建具改修</text>
<text class="s" x="1725" y="399">養生・既存内装材撤去</text>
<text class="s" x="2835" y="398">自主検査</text><text class="s" x="2837" y="414">調整・試運転</text><text class="s" x="2940" y="398">社内検査</text><text class="s" x="2997" y="398">竣工検査</text>
<text class="d" x="2770" y="418">4/4</text><text class="d" x="2912" y="418">5/15</text><text class="d" x="2978" y="418">6/1</text><text class="d" x="3026" y="418">6/11</text>
<text class="s" x="1758" y="426">足場設置・養生・内装材撤去</text><text class="s" x="1792" y="434">・取付け用はつり</text>
<text class="s" x="1939" y="435">A階段防火戸取付け</text>
<text class="s" x="2047" y="422">壁下地調整・左官補修・塗装新設</text><text class="s" x="2074" y="433">既存建具・手摺り・手摺り子塗装</text>
<text class="s" x="2200" y="422">足場解体・既存床補修</text><text class="s" x="2211" y="433">・ﾋﾞﾆﾙ床ﾀｲﾙ、段鼻ﾉﾝｽﾘｯﾌﾟ新設</text>
<text class="m" x="2374" y="421">A階段</text><text class="s" x="2452" y="433">ｸﾘｰﾆﾝｸﾞ・試運転・調整</text>
<text class="d" x="2272" y="452">12/29</text><text class="d" x="2320" y="452">1/7</text>
<text class="m" x="1056" y="380">男女便所・湯沸・物入・廊下</text>
<text class="s" x="1043" y="390">既存設備器具・配管撤去</text><text class="s" x="1052" y="400">養生・床・壁・天井内装・建具撤去</text>
<text class="d" x="968" y="396">3/10</text><text class="d" x="1147" y="398">4/20</text>
<text class="s" x="1205" y="388">設備PS内・壁・天井内</text><text class="s" x="1197" y="400">給排水配管</text>
<text class="d" x="852" y="421">2/15</text>
<text class="m" x="825" y="397">仮設便所設置</text><text class="s" x="821" y="408">配管・電気・ボーチ床</text>
<text class="s r" x="1319" y="388">仮使用開始</text><text class="s r" x="1288" y="400">主事検査</text>
<text class="m" x="1428" y="367">男女便所・湯沸・手洗いｶｳﾝﾀｰ・廊下</text>
<text class="s" x="1361" y="377">軽鉄下地組み</text><text class="s" x="1358" y="385">床躯体塞ぎ</text><text class="s" x="1362" y="393">建具枠取付け</text><text class="s" x="1377" y="401">面台・補強下地取付け</text>
<text class="s" x="1473" y="382">壁・天井ﾎﾞｰﾄﾞ張り</text><text class="s" x="1468" y="391">壁・床左官補修</text><text class="s" x="1468" y="400">壁・床各仕上げ</text>
<text class="s" x="1593" y="381">設備器具・機器取付け</text><text class="s" x="1597" y="390">ﾄｲﾚﾌﾞｰｽ・ｶｳﾝﾀｰ・ﾄﾞｱ取付け</text><text class="s" x="1585" y="400">調整・ｸﾘｰﾆﾝｸﾞ</text>
<text class="d" x="1686" y="392">8/17</text><text class="d" x="1663" y="417">8/13</text><text class="m" x="1690" y="424">A階段</text>
<text class="m" x="1075" y="415">B階段</text>
<text class="s" x="1126" y="418">仮設間仕切り、養生</text><text class="s" x="1114" y="426">内装材・防煙ｼｬｯﾀｰ撤去</text><text class="s" x="1123" y="434">・取付け用はつり</text>
<text class="s" x="1196" y="419">防煙ｼｬｯﾀｰ取付け</text><text class="s" x="1205" y="431">床、壁、天井内装材改修新設</text>
<text class="m" x="1333" y="414">B階段</text><text class="s" x="1364" y="423">養生・足場設置</text><text class="s" x="1373" y="432">天井一部・CB壁撤去</text>
<text class="s" x="1524" y="433">内装材新設・足場解体・ｸﾘｰﾆﾝｸﾞ</text>
<text class="m" x="1007" y="442">エントランス階段</text>
<text class="s" x="1004" y="451">仮設間仕切り、養生</text><text class="s" x="1007" y="460">内装材・防煙ｼｬｯﾀｰ撤去</text><text class="s" x="1010" y="468">・取付け用はつり</text>
<text class="s" x="1168" y="447">防煙ｼｬｯﾀｰ取付け</text><text class="s" x="1187" y="457">床、壁、天井内装材改修新設</text><text class="s" x="1183" y="466">仮囲い、養生撤去・ｸﾘｰﾆﾝｸﾞ</text>
<text class="d" x="1100" y="461">4/10</text><text class="d r" x="1260" y="451">5/15</text><text class="d r" x="1317" y="451">5/22</text><text class="d" x="922" y="474">3/1</text>
<text class="d" x="1663" y="451">8/13</text><text class="d" x="1695" y="451">8/17</text>
<text class="s r" x="1324" y="497">仮使用開始</text>
<text class="m" x="1587" y="515">男女便所・湯沸・多目的便所・廊下</text>
<text class="s r" x="1288" y="535">主事検査</text>
<text class="m" x="1370" y="533">男女便所・湯沸・多目的便所</text>
<text class="s" x="1352" y="551">土間下給排水ガス埋設配管</text><text class="s" x="1344" y="564">土間躯体復旧</text>
<text class="s" x="1446" y="546">軽鉄下地組み</text><text class="s" x="1446" y="556">建具枠取付け</text><text class="s" x="1455" y="566">面台・補強下地取付け</text>
<text class="s" x="1543" y="545">壁・天井ﾎﾞｰﾄﾞ張り</text><text class="s" x="1540" y="555">壁・床左官補修</text><text class="s" x="1540" y="565">壁・床各仕上げ</text>
<text class="s" x="1638" y="545">設備器具・機器取付け</text><text class="s" x="1640" y="557">ﾄｲﾚﾌﾞｰｽ・ｶｳﾝﾀｰ・ﾄﾞｱ取付け</text>
<text class="m" x="1105" y="546">男女便所・湯沸・多目的便所・廊下</text>
<text class="s" x="1058" y="557">既存設備器具・配管撤去</text><text class="s" x="1120" y="566">養生・床・壁・天井内装・建具撤去・床ｺﾝｸﾘｰﾄ撤去</text>
<text class="d" x="966" y="562">3/10</text>
<text class="m" x="754" y="565">北側埋設配管及び受水槽間連給水ﾙｰﾄ替え</text>
<text class="d" x="852" y="584">2/15</text>
<text class="m" x="984" y="578">エントランス階段</text><text class="s" x="982" y="588">仮設間仕切り、養生</text><text class="s" x="1017" y="600">防煙垂れ壁・内装材撤去・取付け用はつり</text>
<text class="s" x="1162" y="580">防煙垂れ壁取付け</text><text class="s" x="1183" y="590">床、壁、天井内装材改修新設</text><text class="s" x="1185" y="599">仮囲い、養生撤去・ｸﾘｰﾆﾝｸﾞ</text>
<text class="d" x="1104" y="594">4/10</text>
<text class="d r" x="1260" y="583">5/15</text><text class="d r" x="1263" y="617">5/15</text><text class="d r" x="1316" y="582">5/22</text><text class="d r" x="1317" y="617">5/22</text>
<text class="m" x="1359" y="578">風除室A</text>
<text class="s" x="1432" y="588">養生・床・壁・天井内装・建具撤去</text><text class="s" x="1458" y="598">・床ｺﾝｸﾘｰﾄ撤去（A階段床含む）</text>
<text class="s" x="1549" y="598">ｱﾙﾐ建具新設</text><text class="s" x="1625" y="597">天井・壁・床内装新設</text>
<text class="s" x="1397" y="613">土間下給排水ガス埋設配管</text><text class="s" x="1497" y="613">土間躯体復旧（A階段床含む）</text>
<text class="s r" x="1324" y="593">仮使用開始</text>
<text class="m" x="763" y="597">準備工事（現地調査）</text>
<text class="d" x="373" y="616">10/30</text><text class="d" x="602" y="615">12/20</text><text class="d" x="942" y="616">3/1</text>
<text class="d" x="1662" y="614">8/13</text><text class="d" x="1697" y="614">8/17</text>
<text class="m" x="2179" y="503">市民ﾎｰﾙ・生活安全課・会計管理課</text>
<text class="s" x="2155" y="512">防煙垂れ壁・鋼板柱補強更新</text><text class="s" x="2126" y="521">防煙垂れ壁</text>
<text class="s" x="2179" y="531">養生・内装材改修新設・養生撤去・ｸﾘｰﾆﾝｸﾞ</text>
<text class="s" x="1987" y="524">養生・既存内装材撤去</text>
<text class="m" x="2472" y="518">第3会議室</text>
<text class="s" x="2511" y="532">無窓居室の既存不適格解消工事</text><text class="s" x="2382" y="531">北側各建具改修</text><text class="s" x="2689" y="532">南側各建具改修</text>
<text class="d" x="1937" y="551">10/15</text><text class="d" x="2029" y="555">11/1</text>
<text class="m" x="1725" y="563">仮設便所撤去</text><text class="d" x="1772" y="581">9/3</text>
<text class="m" x="1727" y="586">A階段</text>
<text class="s" x="1799" y="600">足場設置・養生・内装材撤去・取付け用はつり</text>
<text class="s" x="1950" y="600">A階段防火戸取付け</text>
<text class="s" x="2070" y="590">壁下地調整・左官補修・塗装新設</text><text class="s" x="2088" y="600">既存建具・手摺り・手摺り子塗装</text>
<text class="s" x="2186" y="588">足場解体・既存床補修</text><text class="s" x="2209" y="599">・ﾋﾞﾆﾙ床ﾀｲﾙ、段鼻ﾉﾝｽﾘｯﾌﾟ新設</text>
<text class="m" x="2475" y="585">A階段・廊下一部・風除室A</text><text class="s" x="2497" y="599">ｸﾘｰﾆﾝｸﾞ・試運転・調整</text>
<text class="d" x="2272" y="619">12/29</text><text class="d" x="2320" y="618">1/7</text>
<text class="p" x="2696" y="284">89.5</text><text class="p" x="2556" y="378">83.5</text><text class="p" x="2418" y="459">78.2</text>
<text class="p" x="2826" y="207">93.5</text><text class="p" x="2960" y="131">99.5</text><text class="p" x="3034" y="119">100</text>
</g>

<g id="labels-bekkan">
<text class="d" x="848" y="640">2/15</text><text class="s" x="949" y="644">別館埋設給水管ﾙｰﾄ替え</text><text class="d" x="1035" y="640">3/20</text><text class="d" x="1129" y="638">4/16</text><text class="s" x="1234" y="644">別館既存仮撤去部分養生・仮撤去</text><text class="d" x="1330" y="640">5/31</text>
<text class="d" x="1919" y="640">10/10</text>
<text class="m" x="2191" y="630">既存別館改修外部</text>
<text class="s" x="2074" y="644">既存躯体開口塞ぎ・袖壁新設</text>
<text class="s" x="2279" y="641">既存外壁取合いｼｰﾘﾝｸﾞ・吹付補修</text>
<text class="m" x="2092" y="681">既存別館改修内部</text>
<text class="s" x="2022" y="712">3階仮囲い・養生</text><text class="s" x="2056" y="723">内装材・建具・床撤去</text>
<text class="s" x="2185" y="699">3階建具取付け・ﾓﾙﾀﾙ詰め</text><text class="s" x="2185" y="710">・硝子・ｼｰﾘﾝｸﾞ・左官補修</text><text class="s" x="2187" y="721">内装仕上げ・EXP.J</text>
<text class="d" x="2103" y="742">11/2</text><text class="d" x="2270" y="743">12/29</text>
<text class="s" x="2335" y="681">2階仮囲い・養生</text><text class="s" x="2344" y="690">内装材・建具・床撤去</text>
<text class="d" x="2448" y="711">2/6</text><text class="d" x="2599" y="711">3/10</text>
<text class="s" x="2538" y="669">2階建具取付け・ﾓﾙﾀﾙ詰め</text><text class="s" x="2538" y="680">・硝子・ｼｰﾘﾝｸﾞ・左官補修</text><text class="s" x="2551" y="691">内装仕上げ・EXP.J</text>
<text class="s" x="2669" y="643">1階仮囲い・養生</text><text class="s" x="2678" y="652">内装材・建具・床撤去</text><text class="d" x="2691" y="671">4/10</text>
<text class="s" x="2761" y="630">1階建具取付け・ﾓﾙﾀﾙ詰め</text><text class="s" x="2768" y="641">・硝子・ｼｰﾘﾝｸﾞ・左官補修</text><text class="s" x="2792" y="652">内装仕上げ・EXP.J</text>
<text class="s" x="2284" y="762">内部機械設備（ﾋﾟｯﾄ内配管・壁、天井内配管・空調機取付け・機器、器具取付け）</text>
<text class="d" x="2689" y="761">4/1</text><text class="s" x="2759" y="757">内部機械設備</text><text class="s" x="2772" y="766">試運転・調整</text>
<text class="s" x="2160" y="776">昇降機</text><text class="s" x="2155" y="784">入口枠取付け</text><text class="s" x="2152" y="791">入口枠詰めﾓﾙﾀﾙ</text><text class="d" x="2191" y="784">12/10</text>
<text class="s" x="2240" y="776">昇降機</text><text class="s" x="2240" y="783">内部足場解体</text><text class="s" x="2243" y="790">ﾋﾟｯﾄ内ｹｲ酸質塗布防水</text><text class="d" x="2297" y="785">12/29</text>
<text class="m" x="2443" y="788">昇降機設置</text><text class="d" x="2691" y="786">4/10</text><text class="s" x="2768" y="790">昇降機試運転・調整</text>
<text class="s" x="2209" y="809">防錆塗装・ﾌﾘｰｱｸｾｽﾌﾛｱ・耐震鉄架</text><text class="s" x="2216" y="817">部分引渡し部天井・壁・床仕上げ</text>
<text class="d" x="2322" y="814">1/6</text><text class="m r" x="2583" y="817">関連別途工事</text>
<text class="s" x="2205" y="829">内部金属製建具枠取付け</text><text class="s" x="2200" y="837">内部壁・天井断熱材</text><text class="s" x="2200" y="844">内部壁・天井ﾎﾞｰﾄﾞ張り</text>
<text class="d" x="2272" y="832">12/29</text><text class="d" x="2144" y="840">12/1</text>
<text class="s" x="2374" y="844">内部壁・天井・建具枠塗装</text><text class="s" x="2484" y="844">壁塗装・床、巾木張り</text><text class="d" x="2558" y="838">2/28</text>
<text class="s" x="2637" y="833">内部建具吊込み・塗装</text><text class="s" x="2662" y="843">内部建具金物取付・硝子入れ</text>
<text class="vt" x="3030" y="860">引き渡し</text>
<text class="s" x="1941" y="874">内部間仕切り先付け金物取付け</text><text class="s" x="1943" y="882">半乾式ﾛｯｸｳｰﾙ吹付 t=25</text><text class="s" x="1939" y="892">外壁内面硬質ｳﾚﾀﾝ吹付 t=20</text>
<text class="s" x="2065" y="894">内部壁・天井軽鉄下地組み</text><text class="d" x="2194" y="888">12/10</text>
<text class="s" x="2302" y="893">内部左官・ﾀｲﾙ・各金物取付</text><text class="s" x="2542" y="894">ﾄｲﾚﾌﾞｰｽ・各ﾕﾆｯﾄ取付け</text>
<text class="m" x="2763" y="893">移動書架</text><text class="s" x="2768" y="911">試運転・調整・ｸﾘｰﾆﾝｸﾞ</text>
<text class="s" x="2867" y="896">自主検査</text><text class="s" x="2939" y="896">社内検査</text><text class="s" x="2997" y="896">竣工検査</text>
<text class="d" x="2004" y="915">10/29</text><text class="d" x="2103" y="915">11/20</text><text class="d" x="2691" y="916">4/10</text><text class="d" x="2829" y="915">4/30</text><text class="d" x="2900" y="912">5/15</text><text class="d" x="2978" y="916">6/1</text><text class="d" x="3025" y="916">6/11</text>
<text class="s" x="2876" y="921">試運転・調整・ｸﾘｰﾆﾝｸﾞ</text>
<text class="m" x="1867" y="965">ALC版工事</text>
<text class="s" x="1871" y="976">下地ｱﾝｸﾞﾙ取付け</text><text class="s" x="1876" y="985">詰めﾓﾙﾀﾙ・捨てｱﾝｸﾞﾙ</text><text class="s" x="1880" y="994">ALC版外壁・間仕切り</text><text class="s" x="1858" y="1003">床建込み</text><text class="s" x="1867" y="1011">取合いｼｰﾘﾝｸﾞ</text><text class="s" x="1876" y="1020">層間取合い絶縁材</text><text class="s" x="1860" y="1029">ﾓﾙﾀﾙ詰め</text>
<text class="s" x="2011" y="945">・外部ｱﾙﾐ建具取付け・枠詰めﾓﾙﾀﾙ</text><text class="s" x="2024" y="955">ｱﾙﾐ庇、水切り取付け・外部建具ｶﾞﾗｽ入れ</text><text class="s" x="2020" y="965">建具廻り、取合いｼｰﾘﾝｸﾞ・とい取付け</text><text class="s" x="2011" y="975">屋外階段床仕上げ・手摺り取付け</text>
<text class="s" x="2123" y="947">外壁複層塗材E吹付</text><text class="s" x="2180" y="947">取合いｼｰﾘﾝｸﾞ</text><text class="s" x="2239" y="948">外部足場解体</text>
<text class="d" x="2150" y="934">12/3</text><text class="s" x="2190" y="937">ｸﾗｯﾌﾟ・ｱﾙﾐ笠木</text><text class="s" x="2191" y="929">外壁金物取付け</text><text class="d" x="2224" y="938">12/13</text><text class="d" x="2272" y="941">12/29</text><text class="d" x="2320" y="945">1/6</text>
<text class="m" x="2374" y="937">外構工事</text><text class="s" x="2416" y="947">埋設雨水排水・桝設置・排水側溝</text>
<text class="s" x="2200" y="966">屋外階段手摺り塗装・外部左官・ﾀｲﾙ</text>
<text class="s" x="2160" y="983">機械基礎・ﾊﾟﾗﾍﾟｯﾄ・小屋塗膜防水</text><text class="s" x="2150" y="992">立上り乾式保護材</text><text class="s" x="2163" y="1001">屋上左官（濡ﾓﾙﾀﾙ・各補修）</text>
<text class="d" x="2110" y="973">11/17</text><text class="d" x="2110" y="1018">11/17</text><text class="d" x="2150" y="1017">11/25</text>
<text class="d" x="2552" y="1000">2/28</text><text class="s" x="2644" y="1000">歩車道・縁石・ｱｽﾌｧﾙﾄ舗装・白線引き</text>
<text class="d" x="1919" y="1025">10/14</text>
<text class="s" x="1993" y="1007">屋上ｱｽﾌｧﾙﾄ防水</text><text class="s" x="2002" y="1016">ｱｽﾌｧﾙﾄ防水・断熱材t=25</text><text class="s" x="2006" y="1026">成形伸縮目地・押えｺﾝｸﾘｰﾄ</text>
<text class="m" x="2194" y="1030">屋上・外壁機械設備工事</text><text class="s" x="2182" y="1041">機器設置・配管・器具取付け</text>
<text class="s" x="2335" y="1030">屋外機械設備工事</text><text class="s" x="2330" y="1040">埋設配管・桝</text>
<text class="s" x="2766" y="1034">屋外機械設備</text><text class="s" x="2772" y="1042">試運転・調整</text>
<text class="d" x="2272" y="1062">12/29</text><text class="d" x="2322" y="1060">1/6</text><text class="d" x="2691" y="1061">4/10</text>
<text class="m" x="1754" y="1017">2,3,PH階床躯体工事</text>
<text class="m" x="1732" y="986">外部足場・内部足場組立</text><text class="s" x="1712" y="997">鉄骨安全施設撤去</text>
<text class="d" x="1756" y="1051">8/31</text><text class="d" x="1785" y="1051">9/10</text><text class="d" x="1826" y="1051">9/20</text>
<text class="s" x="1790" y="1067">立上り配筋・型枠</text><text class="s" x="1792" y="1078">立上りｺﾝｸﾘｰﾄ打設</text><text class="s" x="1790" y="1089">立上り型枠脱枠</text>
<text class="m" x="1885" y="1070">屋上躯体工事</text>
<text class="s" x="1885" y="1079">機械基礎配筋</text><text class="s" x="1885" y="1089">機械基礎型枠</text><text class="s" x="1898" y="1099">機械基礎ｺﾝｸﾘｰﾄ打設</text><text class="s" x="1894" y="1109">機械基礎型枠脱枠</text>
<text class="m" x="1357" y="1092">基礎工事（屋外階段基礎含む）</text>
<text class="s" x="1335" y="1101">掘削・残土処理・砕石</text><text class="s" x="1330" y="1110">転圧・捨てｺﾝ</text>
<text class="m" x="1491" y="1043">基礎躯体工事（屋外階段基礎含む）</text>
<text class="s" x="1473" y="1055">基礎地中梁配筋・圧接・採寸検査</text><text class="s" x="1473" y="1063">基礎ｽﾘｰﾌﾞ補強・地中梁ふかし筋</text><text class="s" x="1473" y="1072">基礎型枠・鉄骨ｱﾝｶｰｾｯﾄ・立上り配筋</text><text class="s" x="1473" y="1081">基礎・地中梁・ﾋﾟｯﾄｺﾝｸﾘｰﾄ打設</text>
<text class="m" x="1629" y="1030">鉄骨工事</text><text class="s" x="1643" y="1039">建て方・本締め</text><text class="s" x="1638" y="1047">屋外階段・内部階段</text><text class="s" x="1625" y="1055">ｽﾗﾌﾞﾃﾞｯｷ・層間取合いﾌﾟﾚｰﾄ</text>
<text class="d" x="1560" y="1077">7/21</text><text class="d" x="1672" y="1072">8/13</text><text class="d" x="1695" y="1072">8/17</text><text class="d" x="1650" y="1079">8/11</text>
<text class="s" x="1468" y="1100">機械設備スリーブ 墨出</text><text class="s" x="1464" y="1109">ｽﾘｰﾌﾞ入れ</text><text class="d" x="1520" y="1101">7/12</text>
<text class="s" x="1558" y="1104">基礎型枠脱枠</text><text class="s" x="1558" y="1112">通路足場解体</text><text class="s" x="1558" y="1120">埋戻し・砕石</text><text class="s" x="1562" y="1129">立上げ断熱材・土間ｼｰﾄ</text><text class="s" x="1562" y="1137">鉄骨柱下均しﾓﾙﾀﾙ</text>
<text class="m" x="1678" y="1097">土間・立上り躯体</text><text class="s" x="1690" y="1107">砕石不陸直し・砂敷き</text><text class="s" x="1690" y="1115">ﾋﾟｯﾄｽﾗﾌﾞ型枠・断熱</text><text class="s" x="1690" y="1124">土間・立上り配筋</text><text class="s" x="1690" y="1132">土間・立上りｺﾝｸﾘｰﾄ</text><text class="s" x="1690" y="1141">立上り型枠脱枠</text>
<text class="s" x="1450" y="1128">柱脚ﾍﾞｰｽﾊﾟｯｸ</text><text class="s" x="1446" y="1137">基礎ｴｰｽ</text>
<text class="d" x="1415" y="1124">6/19</text><text class="d" x="1330" y="1130">6/1</text>
<text class="s" x="1384" y="1147">通路足場・墨場・ﾉｯﾁﾀﾝｸ・水中ﾎﾟﾝﾌﾟ</text>
<text class="d" x="367" y="1149">10/30</text>
<text class="m" x="584" y="1133">準備工事（現地調査）</text>
<text class="m" x="823" y="1129">地盤改良杭室内試験用土採取</text>
<text class="d" x="848" y="1113">2/15</text><text class="d" x="788" y="1151">2/1</text><text class="s" x="843" y="1150">地盤改良杭室内試験</text>
<text class="s" x="941" y="1133">既存ｱｽﾌｧﾙﾄ・側溝撤去</text><text class="m" x="949" y="1145">仮設準備（給水・排水）</text>
<text class="d" x="1010" y="1132">3/20</text><text class="d" x="1060" y="1160">3/28</text><text class="d" x="1153" y="1150">4/16</text>
<text class="m" x="1066" y="1111">地盤改良杭</text>
<text class="s" x="1096" y="1123">杭芯出し本体 φ1,000 120本−L=5.55m</text><text class="s" x="1098" y="1133">浅層下 φ1,000 13本−L=5.55m</text>
<text class="s" x="1071" y="1150">機器搬入・組立</text><text class="s" x="1126" y="1150">ｺｱ採取</text>
</g>

<g id="labels-minami">
<text class="m" x="745" y="1385">南 側 仮 囲 い</text><text class="s" x="763" y="1398">（ｹﾞｰﾄ・A型ﾊﾞﾘｹｰﾄﾞ）</text>
<text class="d" x="828" y="1394">2/10</text>
<text class="m" x="870" y="1350">南側解体</text><text class="s" x="884" y="1361">埋設雨水排水撤去</text><text class="s" x="893" y="1372">ﾍﾞﾗﾝﾀﾞ・庇欄切りｶｯﾀｰ切り</text>
<text class="s" x="897" y="1398">既存建具解体用養生設置</text>
<text class="d" x="966" y="1390">3/10</text>
<text class="m" x="1055" y="1347">南側解体</text><text class="s" x="1055" y="1359">4通り〜12通り間</text><text class="s" x="1066" y="1371">大走り・ﾍﾞﾗﾝﾀﾞ・庇撤去</text>
<text class="s" x="1058" y="1383">外部足場組み</text><text class="s" x="1082" y="1391">（外部足場＋高所作業車併用作業）</text><text class="s" x="1120" y="1400">ﾍﾞﾗﾝﾀﾞ・庇切付け斫り</text>
<text class="s" x="1196" y="1413">1通り〜11通り柱あと施工ｱﾝｶｰ</text>
<text class="m" x="1251" y="1340">南側解体</text><text class="s" x="1276" y="1351">1通り〜4通り間</text><text class="s" x="1276" y="1359">大走り・ﾍﾞﾗﾝﾀﾞ・階段撤去</text><text class="s" x="1276" y="1368">ﾍﾞﾗﾝﾀﾞ・庇切付け斫り</text>
<text class="d" x="1294" y="1391">5/22</text><text class="d" x="1334" y="1391">6/2</text><text class="s" x="1380" y="1389">杭芯出し6/8</text>
<text class="m" x="1397" y="1337">鋼管杭打設</text><text class="s" x="1393" y="1348">本体 355.6×12.7 44本−7.0m</text>
<text class="m" x="1388" y="1361">常時微振動計測</text><text class="s" x="1392" y="1372">（障害物確認 9か所）</text>
<text class="d" x="1444" y="1364">6/24</text>
<text class="m" x="1522" y="1300">基礎掘削</text><text class="s" x="1522" y="1310">掘削・残土処理・砕石</text><text class="s" x="1527" y="1319">ｱﾝｶｰｾｯﾄ・捨てｺﾝ打設</text><text class="s" x="1509" y="1334">6-M22×11 66本</text>
<text class="d" x="1614" y="1314">8/2</text><text class="d" x="1643" y="1316">8/4</text><text class="s" x="1623" y="1336">基礎墨出</text>
<text class="m" x="1660" y="1277">杭頭補強筋</text><text class="s" x="1669" y="1288">本体 D29×9×44-396本</text>
<text class="m" x="1558" y="1389">あと施工ｱﾝｶｰ</text><text class="s" x="1576" y="1400">基礎部分1通り〜11通り柱</text>
<text class="m" x="1768" y="1273">鉄骨工事</text><text class="s" x="1768" y="1282">建て方・本締め</text>
<text class="d" x="1725" y="1288">8/25</text><text class="s" x="1780" y="1291">吊足場・安全施設取付け</text>
<text class="d" x="1752" y="1307">8/28</text><text class="s" x="1726" y="1315">鉄骨柱搬入</text><text class="s" x="1787" y="1315">無収縮ﾓﾙﾀﾙ詰め</text><text class="s" x="1728" y="1323">・ｽﾀｯﾄﾞ打ち</text>
<text class="s" x="1786" y="1339">基礎部分</text><text class="s" x="1786" y="1348">剥製防止筋φ6</text>
<text class="d" x="1837" y="1307">9/16</text>
<text class="s" x="1885" y="1291">ｽﾘｰﾌﾞ入れ・雨水排水・桝設置</text>
<text class="m" x="1835" y="1224">基礎工事（屋外階段基礎含む）</text><text class="s" x="1840" y="1234">基礎配筋・圧接・採寸検査・補強筋</text><text class="s" x="1835" y="1244">剥製防止筋・型枠・ｺﾝｸﾘｰﾄ</text><text class="s" x="1830" y="1256">・脱枠・埋戻し</text>
<text class="m" x="1950" y="1223">外部足場組立</text><text class="s" x="1943" y="1234">階段鉄骨</text>
<text class="d" x="1979" y="1237">10/20</text><text class="d" x="1916" y="1261">10/10</text>
<text class="s" x="1952" y="1266">1階床工事</text><text class="s" x="1966" y="1279">配筋・型枠・ｺﾝｸﾘｰﾄ</text>
<text class="m" x="2024" y="1229">1階躯体工事</text><text class="s" x="2020" y="1240">（屋外階段含む）</text><text class="s" x="2040" y="1254">柱梁配筋・圧接・採寸検査</text><text class="s" x="2042" y="1262">剥製防止筋・型枠・ｽﾗﾌﾞ配筋</text><text class="s" x="2026" y="1271">吊足場・安全施設撤去</text>
<text class="d" x="2094" y="1227">11/16</text><text class="s" x="2098" y="1237">1階ｺﾝ打設</text>
<text class="m" x="2152" y="1229">2階躯体工事</text><text class="s" x="2148" y="1240">（屋外階段含む）</text><text class="s" x="2166" y="1254">柱梁配筋・圧接・採寸検査</text><text class="s" x="2170" y="1262">剥製防止筋・型枠・ｽﾗﾌﾞ配筋</text><text class="s" x="2157" y="1275">吊足場・安全施設撤去</text>
<text class="d" x="2220" y="1229">12/14</text><text class="s" x="2224" y="1238">2階ｺﾝ打設</text>
<text class="m" x="2281" y="1238">3階躯体工事</text><text class="s" x="2283" y="1254">柱梁配筋・圧接・採寸検査</text><text class="s" x="2292" y="1262">剥製防止筋・型枠・ｽﾗﾌﾞ配筋</text><text class="s" x="2286" y="1271">吊足場・安全施設撤去</text>
<text class="d" x="2247" y="1281">12/22</text><text class="s" x="2272" y="1292">1階型枠脱枠</text>
<text class="d" x="2369" y="1227">1/18</text><text class="s" x="2387" y="1237">3階ｺﾝ打設</text>
<text class="s" x="2455" y="1238">2/2 R階立上りｺﾝ打設</text>
<text class="s" x="2420" y="1255">立上り配筋・型枠</text><text class="s" x="2484" y="1252">R階立上り</text><text class="s" x="2482" y="1261">型枠脱枠</text>
<text class="d" x="2398" y="1267">1/25</text><text class="s" x="2450" y="1280">2階型枠脱枠</text>
<text class="s" x="2538" y="1238">3階型枠脱枠</text><text class="d" x="2515" y="1260">2/20</text><text class="d" x="2545" y="1260">2/27</text>
<text class="m" x="2441" y="1207">1階仕上げ工事</text><text class="s" x="2428" y="1219">（屋外階段含む）</text><text class="d" x="2486" y="1217">2/15</text>
<text class="m" x="2547" y="1178">2・R階仕上げ工事</text><text class="s" x="2547" y="1188">（屋外階段含む）</text><text class="s" x="2552" y="1199">下地調整・複層仕上材E 3/8</text>
<text class="s" x="2604" y="1219">DP塗装・浸透性吹付防止材・DP塗装</text><text class="s" x="2622" y="1228">塗膜防水・アルミ手摺・外樋・取合いｼｰﾘﾝｸﾞ</text>
<text class="m" x="2650" y="1173">3階仕上げ工事</text><text class="s" x="2711" y="1172">外部足場解体</text><text class="d" x="2687" y="1191">3/28</text><text class="d" x="2721" y="1192">4/5</text>
<text class="s" x="2770" y="1173">雨水排水</text><text class="d" x="2757" y="1191">4/15</text><text class="d" x="2803" y="1191">4/20</text><text class="s" x="2781" y="1227">仮囲い撤去</text>
<text class="s" x="2846" y="1166">縁石・現状地盤不陸整正</text><text class="s" x="2846" y="1175">ｱｽﾌｧﾙﾄ舗装・白線引き</text>
<text class="s" x="2942" y="1242">試運転・調整・ｸﾘｰﾆﾝｸﾞ</text><text class="s" x="2916" y="1260">自主検査</text>
<text class="s" x="2943" y="1326">社内検査</text><text class="s" x="2997" y="1326">竣工検査</text><text class="s" x="2948" y="1337">試運転・調整</text>
<text class="d" x="2907" y="1346">5/14</text><text class="d" x="2979" y="1346">6/1</text><text class="d" x="3026" y="1344">6/11</text>
<text class="vt" x="3024" y="1300">引き渡し</text>
</g>

<g id="labels-kita">
<text class="m" x="477" y="1648">準備工事（現地調査・地縄・工事看板）</text><text class="s" x="473" y="1661">（仮設事務所・電気・水道・電話・ﾄｲﾚ）</text>
<text class="d" x="373" y="1656">10/30</text><text class="d" x="602" y="1658">12/20</text>
<text class="s" x="723" y="1663">給水設備・埋設配管盛替え</text><text class="s" x="732" y="1675">既存空調機器取外し（冷媒ｶﾞｽ回収共）</text>
<text class="m" x="642" y="1624">北 側 仮 囲 い</text><text class="s" x="647" y="1637">（ｹﾞｰﾄ・A型ﾊﾞﾘｹｰﾄﾞ）</text>
<text class="d" x="716" y="1633">1/15</text>
<text class="m" x="783" y="1592">北側解体</text><text class="s" x="794" y="1603">受水槽・ｵｲﾙﾀﾝｸ・渡廊下</text><text class="s" x="794" y="1611">・ｼｪﾙﾀｰ・自転車置場</text><text class="s" x="799" y="1623">ﾍﾞﾗﾝﾀﾞ・庇欄切りｶｯﾀｰ切り</text><text class="s" x="794" y="1636">既存建具解体用養生設置</text>
<text class="d" x="864" y="1603">2/15</text>
<text class="m" x="897" y="1585">北側解体</text><text class="s" x="919" y="1598">埋設雨水排水・大走り</text><text class="s" x="919" y="1610">階段・ﾍﾞﾗﾝﾀﾞ・庇撤去</text>
<text class="s" x="928" y="1625">（外部足場＋高所作業車併用作業）</text><text class="s" x="919" y="1637">ﾍﾞﾗﾝﾀﾞ・庇切付け斫り</text>
<text class="m" x="1022" y="1600">常時微振動計測</text><text class="s" x="1031" y="1609">（障害物確認 13か所）</text><text class="d" x="984" y="1609">3/15</text><text class="s" x="1022" y="1626">杭芯出し3/21</text>
<text class="m" x="946" y="1648">あと施工ｱﾝｶｰ</text><text class="s" x="946" y="1659">1階〜3階部分1通り〜11通り柱</text>
<text class="m" x="1022" y="1532">鋼管杭打設</text><text class="s" x="1022" y="1543">（屋外階段・受水槽含む）</text><text class="s" x="1026" y="1552">本体 355.6×12.7 44本−7.0m</text><text class="s" x="1022" y="1574">階段 165.2×7.1 10本−8.0m</text><text class="s" x="1026" y="1583">受水槽 165.2×7.1 4本−8.0m</text>
<text class="d" x="1090" y="1580">4/8</text>
<text class="m" x="1143" y="1449">北側別館改修工事</text>
<text class="m" x="1120" y="1520">基礎掘削</text><text class="s" x="1111" y="1530">（屋外階段含む）</text><text class="s" x="1129" y="1543">掘削・残土処理・砕石</text><text class="s" x="1132" y="1555">ｱﾝｶｰｾｯﾄ・捨てｺﾝ打設</text><text class="s" x="1127" y="1570">6-M22×11 66本</text><text class="s" x="1180" y="1575">基礎墨出</text><text class="d" x="1199" y="1561">4/26</text>
<text class="m" x="1200" y="1502">杭頭補強筋</text><text class="s" x="1200" y="1512">（屋外階段含む）</text><text class="s" x="1205" y="1521">本体 D29×9×44-396本</text><text class="s" x="1200" y="1529">階段 D13×6×6-36本</text>
<text class="s" x="1196" y="1583">給排水埋設配管ﾙｰﾄ替え</text><text class="s" x="1192" y="1598">既存給排水管撤去</text>
<text class="d" x="1241" y="1524">5/13</text>
<text class="m" x="1294" y="1511">鉄骨工事</text><text class="s" x="1298" y="1520">建て方・本締め</text><text class="s" x="1298" y="1528">吊足場・安全施設取付け</text><text class="s" x="1298" y="1546">無収縮ﾓﾙﾀﾙ詰め</text><text class="s" x="1263" y="1554">鉄骨柱搬入</text><text class="s" x="1270" y="1562">・ｽﾀｯﾄﾞ打ち</text>
<text class="s" x="1312" y="1578">基礎部分</text><text class="s" x="1312" y="1587">剥製防止筋φ6</text>
<text class="d" x="1352" y="1548">5/31</text>
<text class="m" x="1201" y="1624">あと施工ｱﾝｶｰ</text><text class="s" x="1201" y="1634">基礎部分1通り〜11通り柱</text>
<text class="m" x="1409" y="1474">基礎工事（屋外階段基礎含む）</text><text class="s" x="1415" y="1484">基礎配筋・圧接・採寸検査・補強筋</text><text class="s" x="1388" y="1494">剥製防止筋・型枠・ｺﾝｸﾘｰﾄ</text><text class="s" x="1446" y="1504">・脱枠・埋戻し</text>
<text class="s" x="1417" y="1532">ｽﾘｰﾌﾞ入れ・雨水排水・桝設置</text>
<text class="m" x="1517" y="1468">外部足場組立</text><text class="s" x="1513" y="1478">階段鉄骨</text><text class="d" x="1491" y="1500">7/4</text><text class="s" x="1526" y="1506">1階床工事</text>
<text class="d" x="1553" y="1476">7/14</text>
<text class="m" x="1595" y="1466">1階躯体工事</text><text class="s" x="1598" y="1478">（屋外階段含む）</text><text class="s" x="1598" y="1493">柱梁配筋・圧接・採寸検査</text><text class="s" x="1598" y="1502">剥製防止筋・型枠・ｽﾗﾌﾞ配筋</text><text class="s" x="1589" y="1511">吊足場・安全施設撤去</text>
<text class="d" x="1660" y="1466">8/13</text><text class="s" x="1681" y="1474">1階ｺﾝ打設</text>
<text class="m" x="1737" y="1464">2階躯体工事</text><text class="s" x="1732" y="1475">（屋外階段含む）</text>
<text class="s" x="1735" y="1493">柱梁配筋・圧接・採寸検査</text><text class="s" x="1735" y="1501">剥製防止筋・型枠・ｽﾗﾌﾞ配筋</text><text class="s" x="1730" y="1510">吊足場・安全施設撤去</text>
<text class="d" x="1815" y="1465">9/14</text><text class="s" x="1819" y="1474">2階ｺﾝ打設</text>
<text class="m" x="1876" y="1465">3階躯体工事</text><text class="s" x="1866" y="1475">（屋外階段含む）</text><text class="s" x="1878" y="1493">柱梁配筋・圧接・採寸検査</text><text class="s" x="1882" y="1501">剥製防止筋・型枠・ｽﾗﾌﾞ配筋</text><text class="s" x="1873" y="1510">吊足場・安全施設撤去</text>
<text class="s" x="1858" y="1531">1階型枠脱枠</text><text class="d" x="1850" y="1542">9/22</text>
<text class="d" x="1923" y="1462">10/10</text><text class="s" x="1934" y="1474">3階ｺﾝ打設</text>
<text class="m" x="1962" y="1442">1階仕上げ工事</text><text class="s" x="1962" y="1457">（屋外階段含む）</text>
<text class="d" x="1975" y="1474">10/19</text><text class="s" x="1966" y="1494">立上り配筋・型枠</text><text class="d" x="2011" y="1493">10/25</text><text class="s" x="2013" y="1506">2階型枠脱枠</text>
<text class="s" x="2018" y="1474">R階立上りｺﾝ打設</text><text class="s" x="2069" y="1489">R階立上り</text><text class="s" x="2069" y="1498">型枠脱枠</text>
<text class="d" x="2085" y="1466">11/10</text>
<text class="m" x="2132" y="1409">2・R階仕上げ工事</text><text class="s" x="2095" y="1419">（屋外階段含む）</text><text class="s" x="2105" y="1428">下地調整・複層仕上材E</text><text class="s" x="2092" y="1438">DP塗装・浸透性吹付防止材・DP塗装</text><text class="d" x="2166" y="1436">12/5</text><text class="s" x="2096" y="1452">塗膜防水・アルミ手摺・外樋・取合いｼｰﾘﾝｸﾞ</text>
<text class="s" x="2168" y="1474">3階型枠脱枠</text><text class="d" x="2155" y="1496">11/30</text><text class="d" x="2193" y="1493">12/5</text>
<text class="m" x="2259" y="1409">3階仕上げ工事</text><text class="s" x="2227" y="1418">（屋外階段含む）</text>
<text class="d" x="2392" y="1437">1/20</text><text class="s" x="2425" y="1417">外部足場解体</text><text class="d" x="2462" y="1437">2/10</text><text class="s" x="2569" y="1418">雨水排水</text>
<text class="s" x="2520" y="1468">渡廊下・ﾌﾞﾛｯｸ物置・自転車置場</text><text class="s" x="2615" y="1478">・受水槽上部仕上げ工事</text>
<text class="d" x="2669" y="1496">3/24</text><text class="s" x="2709" y="1478">仮囲い撤去</text><text class="d" x="2739" y="1496">4/9</text>
<text class="s" x="2822" y="1468">縁石・誘導ﾌﾞﾛｯｸ・ｱﾙﾐ製ｼｪﾙﾀｰ復旧</text><text class="s" x="2840" y="1478">ｱｽﾌｧﾙﾄ舗装・白線引き</text>
<text class="s" x="2806" y="1492">試運転・調整・ｸﾘｰﾆﾝｸﾞ</text><text class="s" x="2808" y="1501">自主検査</text>
<text class="d" x="2460" y="1495">2/10</text>
<text class="s" x="2101" y="1533">渡廊下・ﾌﾞﾛｯｸ物置・自転車置場・受水槽基礎工事</text><text class="s" x="2074" y="1542">杭頭補強筋</text><text class="s" x="2096" y="1550">渡廊下 D13×6×4-24本</text><text class="s" x="2096" y="1559">受水槽 D13×6×4-24本</text>
</g>
</svg>
